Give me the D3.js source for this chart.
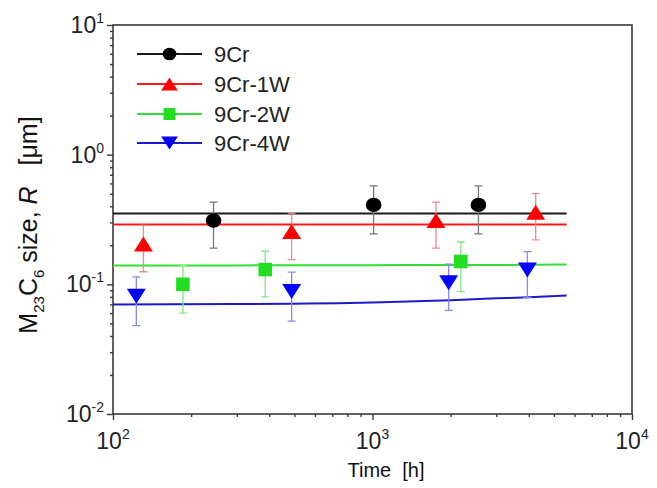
<!DOCTYPE html>
<html>
<head>
<meta charset="utf-8">
<script src="https://cdn.jsdelivr.net/npm/d3@7"></script>
<style>
  html, body { margin: 0; padding: 0; background: #fff; }
  svg { display: block; font-family: 'Liberation Sans', Arial, sans-serif; }
</style>
</head>
<body>
<svg id="root" width="657" height="488"></svg>
<script>
// series names
const seriesNames = ['9Cr', '9Cr-1W', '9Cr-2W', '9Cr-4W'];

// measured points: time [h], radius [um], error +/- [um]
const cr9Time = [244, 1010, 2560];
const cr9R = [0.31, 0.41, 0.41];
const cr9Err = [0.12, 0.165, 0.165];

const w1Time = [131, 488, 1757, 4255];
const w1R = [0.205, 0.255, 0.31, 0.36];
const w1Err = [0.08, 0.10, 0.12, 0.14];

const w2Time = [186, 386, 2190];
const w2R = [0.10, 0.13, 0.15];
const w2Err = [0.04, 0.05, 0.062];

const w4Time = [123, 488, 1966, 3953];
const w4R = [0.081, 0.088, 0.103, 0.129];
const w4Err = [0.033, 0.036, 0.04, 0.05];

// calculated curves
const fitTime = [100, 300, 1000, 2000, 3000, 4000, 5600];
const cr9Fit = [0.352, 0.352, 0.352, 0.352, 0.352, 0.352, 0.352];
const w1Fit = [0.29, 0.29, 0.29, 0.29, 0.29, 0.29, 0.29];
const w2Fit = [0.140, 0.140, 0.1405, 0.141, 0.141, 0.1415, 0.142];
const w4Fit = [0.070, 0.0705, 0.0725, 0.0755, 0.078, 0.0795, 0.082];

// tick labels
const xDecades = [2, 3, 4];
const yDecades = [-2, -1, 0, 1];

const colors = ['#000000', '#ff0000', '#22dd22', '#0000ff'];
const lineColors = ['#1a1a1a', '#ff1a1a', '#33dd33', '#1a1acc'];
const errColors = ['#777777', '#f08a8a', '#80e880', '#8888ee'];
const shapes = ['circle', 'up', 'square', 'down'];

const series = [
  { time: cr9Time, r: cr9R, err: cr9Err, fit: cr9Fit },
  { time: w1Time, r: w1R, err: w1Err, fit: w1Fit },
  { time: w2Time, r: w2R, err: w2Err, fit: w2Fit },
  { time: w4Time, r: w4R, err: w4Err, fit: w4Fit },
].map((s, i) => ({ ...s, name: seriesNames[i], color: colors[i], lineColor: lineColors[i], errColor: errColors[i], shape: shapes[i] }));

const svg = d3.select('#root');
const m = { left: 113, top: 25, right: 632, bottom: 414 };

const x = d3.scaleLog().domain([100, 10000]).range([m.left, m.right]);
const y = d3.scaleLog().domain([0.01, 10]).range([m.bottom, m.top]);

const minor = (lo, hi) => {
  const out = [];
  for (let e = lo; e < hi; e++) for (let k = 2; k <= 9; k++) out.push(k * Math.pow(10, e));
  return out;
};

const axisColor = '#3a3a3a';

// x axis ticks
const gx = svg.append('g').attr('transform', `translate(0,${m.bottom})`);
gx.append('g').call(d3.axisBottom(x).tickValues(xDecades.map(e => Math.pow(10, e))).tickSize(6).tickFormat(''));
gx.append('g').call(d3.axisBottom(x).tickValues(minor(2, 4)).tickSize(3).tickFormat(''));
gx.selectAll('.domain').remove();
gx.selectAll('line').attr('stroke', axisColor).attr('stroke-width', 1.4);

// y axis ticks
const gy = svg.append('g').attr('transform', `translate(${m.left},0)`);
gy.append('g').call(d3.axisLeft(y).tickValues(yDecades.map(e => Math.pow(10, e))).tickSize(6).tickFormat(''));
gy.append('g').call(d3.axisLeft(y).tickValues(minor(-2, 1)).tickSize(3).tickFormat(''));
gy.selectAll('.domain').remove();
gy.selectAll('line').attr('stroke', axisColor).attr('stroke-width', 1.4);

// frame
svg.append('rect')
  .attr('x', m.left).attr('y', m.top)
  .attr('width', m.right - m.left).attr('height', m.bottom - m.top)
  .attr('fill', 'none').attr('stroke', axisColor).attr('stroke-width', 1.6);

// tick labels
const powLabel = (sel, e) => {
  sel.append('tspan').text('10');
  sel.append('tspan').attr('dy', -10).attr('font-size', 14).text(e);
};
xDecades.forEach(e => {
  svg.append('text')
    .attr('x', x(Math.pow(10, e))).attr('y', 449)
    .attr('text-anchor', 'middle').attr('font-size', 23).attr('fill', '#222')
    .call(powLabel, e);
});
yDecades.forEach(e => {
  svg.append('text')
    .attr('x', 104).attr('y', y(Math.pow(10, e)) + 8)
    .attr('text-anchor', 'end').attr('font-size', 23).attr('fill', '#222')
    .call(powLabel, e);
});

// axis titles
svg.append('text')
  .attr('x', 386).attr('y', 477)
  .attr('text-anchor', 'middle').attr('font-size', 20).attr('fill', '#111')
  .attr('xml:space', 'preserve')
  .text('Time  [h]');

const yt = svg.append('text')
  .attr('transform', 'translate(37,225) rotate(-90)')
  .attr('text-anchor', 'middle').attr('font-size', 25).attr('fill', '#111')
  .attr('xml:space', 'preserve');
yt.append('tspan').text('M');
yt.append('tspan').attr('dy', 7).attr('font-size', 15).text('23');
yt.append('tspan').attr('dy', -7).text('C');
yt.append('tspan').attr('dy', 7).attr('font-size', 15).text('6');
yt.append('tspan').attr('dy', -7).text(' size, ');
yt.append('tspan').attr('font-style', 'italic').text('R');
yt.append('tspan').text('   [\u03bcm]');

// fit curves
const line = d3.line().x(d => x(d[0])).y(d => y(d[1])).curve(d3.curveMonotoneX);
series.forEach(s => {
  svg.append('path')
    .datum(fitTime.map((t, i) => [t, s.fit[i]]))
    .attr('fill', 'none').attr('stroke', s.lineColor).attr('stroke-width', 2)
    .attr('d', line);
});

// marker drawing
const drawMarker = (g, shape, color, cx, cy, k) => {
  if (shape === 'circle') {
    g.append('ellipse').attr('cx', cx).attr('cy', cy).attr('rx', 7.8 * k).attr('ry', 7.2 * k).attr('fill', color);
  } else if (shape === 'square') {
    const h = 6.8 * k;
    g.append('rect').attr('x', cx - h).attr('y', cy - h).attr('width', 2 * h).attr('height', 2 * h).attr('fill', color);
  } else {
    const w = 9.5 * k, hh = 7.5 * k, sgn = shape === 'up' ? 1 : -1;
    g.append('path')
      .attr('d', `M${cx - w},${cy + sgn * hh}L${cx + w},${cy + sgn * hh}L${cx},${cy - sgn * hh}Z`)
      .attr('fill', color);
  }
};

// error bars + markers
series.forEach(s => {
  const g = svg.append('g');
  const pts = s.time.map((t, i) => ({ t, r: s.r[i], e: s.err[i] }));
  pts.forEach(p => {
    const cx = x(p.t), y1 = y(p.r + p.e), y0 = y(p.r - p.e);
    g.append('path')
      .attr('d', `M${cx},${y1}V${y0}M${cx - 4},${y1}H${cx + 4}M${cx - 4},${y0}H${cx + 4}`)
      .attr('fill', 'none').attr('stroke', s.errColor).attr('stroke-width', 1.3);
  });
  pts.forEach(p => drawMarker(g, s.shape, s.color, x(p.t), y(p.r), 1));
});

// legend
const legendRows = [54, 84, 114, 143];
series.forEach((s, i) => {
  const ly = legendRows[i];
  const g = svg.append('g');
  g.append('line').attr('x1', 137).attr('x2', 202).attr('y1', ly).attr('y2', ly)
    .attr('stroke', s.lineColor).attr('stroke-width', 2);
  drawMarker(g, s.shape, s.color, 169.5, ly, 0.88);
  g.append('text').attr('x', 214).attr('y', ly + 8).attr('font-size', 22).attr('fill', '#222').text(s.name);
});
</script>
</body>
</html>
